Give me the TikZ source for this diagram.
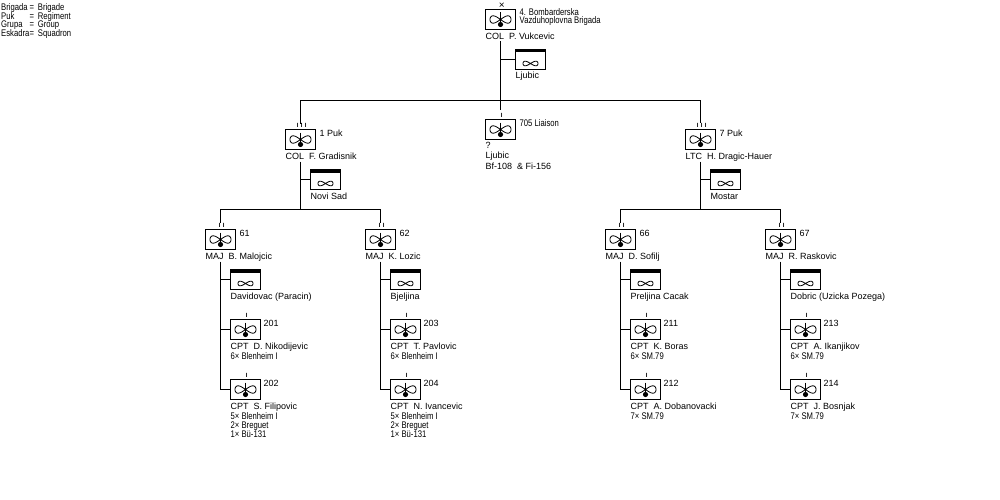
\documentclass[tikz,border=0pt]{standalone}
\usepackage{fontspec}
\setmainfont{Liberation Sans}
\newfontfamily\narrowfont[FakeStretch=0.8]{Liberation Sans}
\newfontfamily\echfont[LetterSpace=40]{Liberation Sans}
\tikzset{
  unitbox/.style={draw,line width=1pt,minimum width=30pt,minimum height=20pt,inner sep=0pt,outer sep=0pt},
  txt/.style={anchor=base west,inner sep=0pt,font=\fontsize{9pt}{9pt}\selectfont},
  small/.style={anchor=base west,inner sep=0pt,font=\narrowfont\fontsize{9.6pt}{9.6pt}\selectfont},
  ech/.style={inner sep=0pt,xshift=1.2pt,font=\echfont\bfseries\fontsize{6pt}{6pt}\selectfont},
  stem/.style={line width=1pt}
}
% #1 name, #2 x, #3 y, #4 echelon
\newcommand{\unitsym}[4]{
  \node[unitbox] (#1) at (#2,#3) {};
  \draw[line width=.8pt,shift={(#2,#3)}] plot[variable=\t,domain=0:360,samples=49,smooth] ({10.5*cos(\t)},{3.7*sin(2*\t)});
  \draw[line width=1pt] (#2,#3) ++(0,-7) -- ++(0,12);
  \fill (#2,#3) ++(0,5) circle (2.6);
  \node[ech] (#1-ech) at (#2,#3-14) {#4};
}
% #1 name, #2 x, #3 y
\newcommand{\basesym}[3]{
  \node[unitbox] (#1) at (#2,#3) {};
  \fill (#2-15,#3-10) rectangle (#2+15,#3-7);
  \draw[line width=.8pt,shift={(#2,#3+4)}] plot[variable=\t,domain=0:360,samples=49,smooth] ({7.5*cos(\t)},{2.3*sin(2*\t)});
}
\begin{document}
\begin{tikzpicture}[x=1pt,y=-1pt]
\useasboundingbox (0,0) rectangle (1000,500);
\begin{scope}[shift={(.5,.5)}]

% key
\foreach \w/\m [count=\n from 0] in {Brigada/Brigade,Puk/Regiment,Grupa/Group,Eskadra/Squadron}{
  \node[small] (key\n) at (0.5,10+8.6*\n) {\w};
  \node[small] (mean\n) at (29,10+8.6*\n) {=\ \,\m};
}

% brigade
\unitsym{bde}{500}{19}{\fontsize{10pt}{10pt}\selectfont\mdseries ×}
\node[small] (bde-lbl) at (519,15) {4. Bombarderska};
\node[small] (bde-lbl2) at (519,23.5) {Vazduhoplovna Brigada};
\node[txt] (bde-cmd) at (485,39) {COL\ \ P. Vukcevic};
\basesym{bde-base}{530}{59}
\node[txt] (bde-loc) at (515,78) {Ljubic};
\coordinate (bde-s) at (500,41);
\coordinate (barpt) at (500,100);
\draw[stem] (bde-s) -- (barpt);
\draw[stem] (bde-s |- bde-base) -- (bde-base.west);

% regiments
\unitsym{puk1}{300}{139}{III}
\node[txt] (puk1-lbl) at (319,136) {1 Puk};
\node[txt] (puk1-cmd) at (285,159) {COL\ \ F. Gradisnik};
\basesym{puk1-base}{325}{179}
\node[txt] (puk1-loc) at (310,199) {Novi Sad};

\unitsym{liaison}{500}{129}{I}
\node[small] (liaison-lbl) at (519,126) {705 Liaison};
\node[txt] (liaison-a) at (485,148) {?};
\node[txt] (liaison-b) at (485,158) {Ljubic};
\node[txt] (liaison-c) at (485,168.5) {Bf-108\ \ \& Fi-156};

\unitsym{puk7}{700}{139}{III}
\node[txt] (puk7-lbl) at (719,136) {7 Puk};
\node[txt] (puk7-cmd) at (685,159) {LTC\ \ H. Dragic-Hauer};
\basesym{puk7-base}{725}{179}
\node[txt] (puk7-loc) at (710,199) {Mostar};

\draw[stem] (puk1-ech.north) -- (puk1-ech.north -| puk1) -- (puk1 |- barpt) -- (puk7 |- barpt) -- (puk7-ech.north -| puk7);
\draw[stem] (barpt) -- ([yshift=3pt]liaison-ech.north -| liaison);

\foreach \p/\pb in {puk1/puk1-base,puk7/puk7-base}{
  \coordinate (\p-s) at ([yshift=-12pt]\p.south);
  \draw[stem] (\p-s) -- ([yshift=-60pt]\p.south);
  \draw[stem] (\p-s |- \pb) -- (\pb.west);
}

% groups: name/x/number/commander/location
\foreach \g/\x/\num/\cmd/\loc in {
  g61/220/61/{MAJ\ \ B. Malojcic}/{Davidovac (Paracin)},
  g62/380/62/{MAJ\ \ K. Lozic}/{Bjeljina},
  g66/620/66/{MAJ\ \ D. Sofilj}/{Preljina Cacak},
  g67/780/67/{MAJ\ \ R. Raskovic}/{Dobric (Uzicka Pozega)}}{
  \unitsym{\g}{\x}{239}{II}
  \node[txt] (\g-lbl) at (\x+19,236) {\num};
  \node[txt] (\g-cmd) at (\x-15,259) {\cmd};
  \basesym{\g-base}{\x+25}{279}
  \node[txt] (\g-loc) at (\x+10,299) {\loc};
  \unitsym{\g-a}{\x+25}{329}{I}
  \unitsym{\g-b}{\x+25}{389}{I}
  \coordinate (\g-s) at (\x,261);
  \draw[stem] (\g-s) -- (\g-s |- \g-b) -- (\g-b.west);
  \draw[stem] (\g-s |- \g-base) -- (\g-base.west);
  \draw[stem] (\g-s |- \g-a) -- (\g-a.west);
}
\coordinate (g-bar) at (220,209);
\draw[stem] (g61-ech.north -| g61) -- (g61 |- g-bar) -- (g62 |- g-bar) -- (g62-ech.north -| g62);
\draw[stem] (g66-ech.north -| g66) -- (g66 |- g-bar) -- (g67 |- g-bar) -- (g67-ech.north -| g67);

% squadrons: name/x/y/number/commander/aircraft
\foreach \s/\x/\y/\num/\cmd/\fleet in {
  g61-a/245/329/201/{CPT\ \ D. Nikodijevic}/{6× Blenheim I},
  g61-b/245/389/202/{CPT\ \ S. Filipovic}/{5× Blenheim I,2× Breguet,1× Bü-131},
  g62-a/405/329/203/{CPT\ \ T. Pavlovic}/{6× Blenheim I},
  g62-b/405/389/204/{CPT\ \ N. Ivancevic}/{5× Blenheim I,2× Breguet,1× Bü-131},
  g66-a/645/329/211/{CPT\ \ K. Boras}/{6× SM.79},
  g66-b/645/389/212/{CPT\ \ A. Dobanovacki}/{7× SM.79},
  g67-a/805/329/213/{CPT\ \ A. Ikanjikov}/{6× SM.79},
  g67-b/805/389/214/{CPT\ \ J. Bosnjak}/{7× SM.79}}{
  \node[txt] (\s-lbl) at (\x+18,\y-3) {\num};
  \node[txt] (\s-cmd) at (\x-15,\y+20) {\cmd};
  \foreach \acft [count=\n from 0] in \fleet {
    \node[small] (\s-ac\n) at (\x-15,\y+30+9*\n) {\acft};
  }
}
\end{scope}
\end{tikzpicture}
\end{document}
